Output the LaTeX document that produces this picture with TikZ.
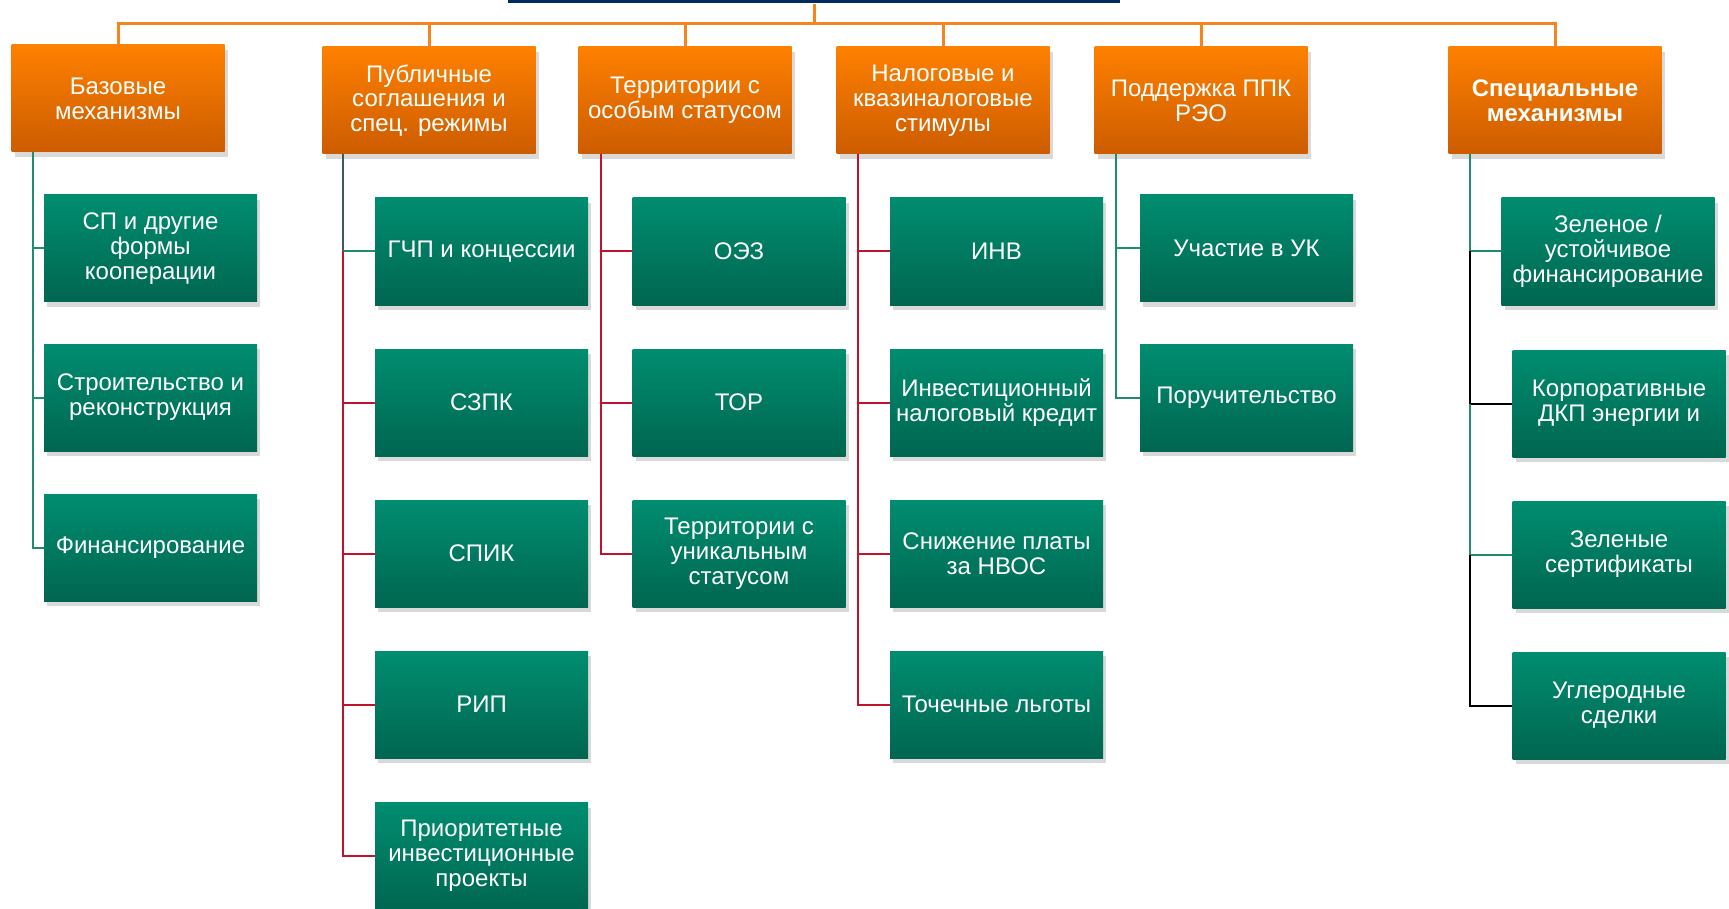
\documentclass[tikz,border=0pt]{standalone}
\usepackage{fontspec}
\setmainfont{Liberation Sans}
\usetikzlibrary{shadows}
\definecolor{navy}{HTML}{002B5C}
\definecolor{orline}{HTML}{F5861F}
\definecolor{ortop}{HTML}{FE8000}
\definecolor{orbot}{HTML}{CC5C00}
\definecolor{grtop}{HTML}{008D70}
\definecolor{grbot}{HTML}{006650}
\definecolor{tealln}{HTML}{1F8C70}
\definecolor{redln}{HTML}{C0132E}
\definecolor{darkln}{HTML}{3E5A55}
\begin{document}
\begin{tikzpicture}[x=0.5pt,y=-0.5pt,
  box/.style={minimum width=106.5pt, minimum height=53.5pt, inner sep=2pt, align=center,
    text=white, font=\fontsize{12}{12.4}\selectfont,
    drop shadow={shadow xshift=1.5pt, shadow yshift=-2.5pt, opacity=0.15, fill=black}},
  obox/.style={box, top color=ortop, bottom color=orbot},
  obold/.style={obox, font=\fontsize{12}{12.4}\selectfont\bfseries},
  gbox/.style={box, top color=grtop, bottom color=grbot},
  oline/.style={draw=orline, line width=1.5pt},
  tl/.style={draw=tealln, line width=1pt},
  rl/.style={draw=redln, line width=1pt},
  dl/.style={draw=darkln, line width=1pt},
  bl/.style={draw=black, line width=1pt}]
\useasboundingbox (0,0) rectangle (1729,909);

% root bar
\node[fill=navy, inner sep=0pt, minimum width=306pt, minimum height=1.6pt] (root) at (814,1.6) {};
\coordinate (hub) at (814,24);

% top-level boxes
\node[obox] (b1) at (118,98.5) {Базовые\\механизмы};
\node[obox] (b2) at (429,100.5) {Публичные\\соглашения и\\спец. режимы};
\node[obox] (b3) at (685,100.5) {Территории с\\особым статусом};
\node[obox] (b4) at (943,100.5) {Налоговые и\\квазиналоговые\\стимулы};
\node[obox] (b5) at (1201,100.5) {Поддержка ППК\\РЭО};
\node[obold] (b6) at (1555,100.5) {Специальные\\механизмы};

% column 1
\node[gbox] (g11) at (150.5,248.5) {СП и другие\\формы\\кооперации};
\node[gbox] (g12) at (150.5,397.5) {Строительство и\\реконструкция};
\node[gbox] (g13) at (150.5,547.5) {Финансирование};
% column 2
\node[gbox] (g21) at (481.5,251.5) {ГЧП и концессии};
\node[gbox] (g22) at (481.5,402.5) {СЗПК};
\node[gbox] (g23) at (481.5,553.5) {СПИК};
\node[gbox] (g24) at (481.5,704.5) {РИП};
\node[gbox] (g25) at (481.5,856) {Приоритетные\\инвестиционные\\проекты};
% column 3
\node[gbox] (g31) at (739,251.5) {ОЭЗ};
\node[gbox] (g32) at (739,402.5) {ТОР};
\node[gbox] (g33) at (739,553.5) {Территории с\\уникальным\\статусом};
% column 4
\node[gbox] (g41) at (996.5,251.5) {ИНВ};
\node[gbox] (g42) at (996.5,402.5) {Инвестиционный\\налоговый кредит};
\node[gbox] (g43) at (996.5,553.5) {Снижение платы\\за НВОС};
\node[gbox] (g44) at (996.5,704.5) {Точечные льготы};
% column 5
\node[gbox] (g51) at (1246.5,248.5) {Участие в УК};
\node[gbox] (g52) at (1246.5,397.5) {Поручительство};
% column 6
\node[gbox] (g61) at (1608,251.5) {Зеленое /\\устойчивое\\финансирование};
\node[gbox] (g62) at (1619,403.5) {Корпоративные\\ДКП энергии и};
\node[gbox] (g63) at (1619,554.5) {Зеленые\\сертификаты};
\node[gbox] (g64) at (1619,705.5) {Углеродные\\сделки};

% trunk x positions
\coordinate (t1) at (33,0);
\coordinate (t2) at (343,0);
\coordinate (t3) at (601,0);
\coordinate (t4) at (858,0);
\coordinate (t5) at (1116,0);
\coordinate (t6) at (1470,0);

% orange top connectors
\draw[oline] (root.south) -- (hub);
\foreach \b in {b1,b2,b3,b4,b5,b6} \draw[oline] (hub) -| (\b.north);

% column 1
\foreach \g in {g11,g12,g13} \draw[tl] (b1.south -| t1) |- (\g.west);
% column 2
\draw[dl] (b2.south -| t2) -- (g21.west -| t2);
\draw[tl] (g21.west -| t2) -- (g21.west);
\foreach \g in {g22,g23,g24,g25} \draw[rl] (g21.west -| t2) |- (\g.west);
% column 3
\foreach \g in {g31,g32,g33} \draw[rl] (b3.south -| t3) |- (\g.west);
% column 4
\foreach \g in {g41,g42,g43,g44} \draw[rl] (b4.south -| t4) |- (\g.west);
% column 5
\foreach \g in {g51,g52} \draw[tl] (b5.south -| t5) |- (\g.west);
% column 6
\draw[tl] (b6.south -| t6) |- (g61.west);
\draw[bl] (g61.west -| t6) |- (g62.west);
\draw[tl] (g62.west -| t6) |- (g63.west);
\draw[bl] (g63.west -| t6) |- (g64.west);
\end{tikzpicture}
\end{document}
